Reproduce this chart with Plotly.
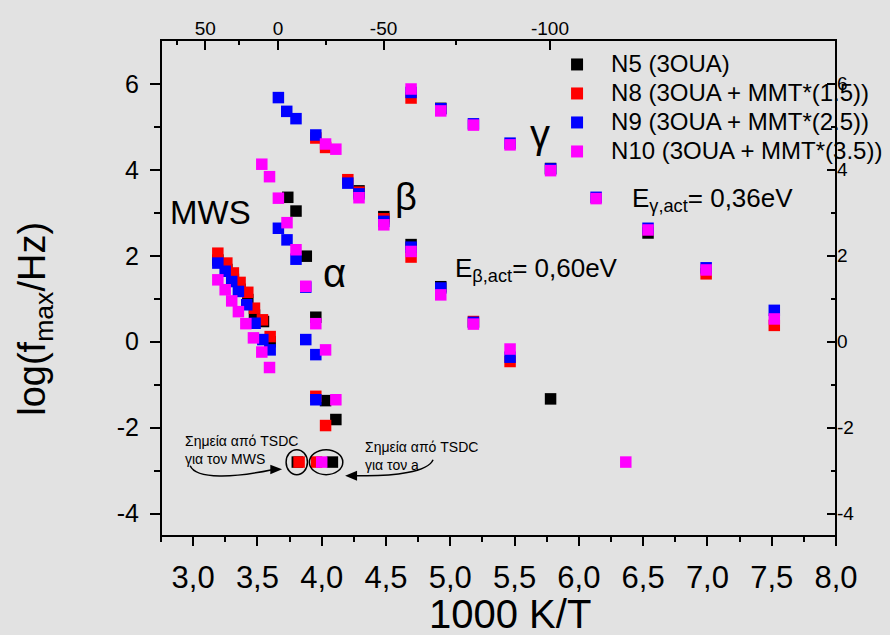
import plotly.graph_objects as go

# ---- Arrhenius map: log10 of loss-peak frequency vs 1000/T ----

# N5 (3OUA)
n5_x = [3.192, 3.262, 3.313, 3.365, 3.425, 3.477, 3.547, 3.599,
        3.736, 3.800, 3.880, 3.954, 4.030, 4.110,
        4.290, 4.483, 4.695, 4.926,
        4.926, 5.780, 6.538, 5.780,
        3.810, 4.083]
n5_y = [1.90, 1.68, 1.45, 1.22, 0.98, 0.62, 0.47, 0.00,
        3.36, 3.04, 1.99, 0.57, -1.37, -1.81,
        3.51, 2.91, 2.26, 1.28,
        5.43, 4.03, 2.53, -1.33,
        -2.80, -2.80]

# N8 (3OUA + MMT*(1.5))
n8_x = [3.192, 3.262, 3.313, 3.365, 3.425, 3.477, 3.539, 3.599,
        3.954, 4.030, 3.954, 4.030,
        4.203, 4.290, 4.483, 4.695, 5.180, 5.465,
        4.695, 6.990, 7.520,
        3.824, 3.960]
n8_y = [2.06, 1.83, 1.60, 1.38, 1.15, 0.78, 0.51, 0.12,
        4.74, 4.52, -1.27, -1.95,
        3.77, 3.48, 2.86, 1.97, 0.47, -0.46,
        5.67, 1.58, 0.38,
        -2.80, -2.80]

# N9 (3OUA + MMT*(2.5))
n9_x = [3.192, 3.249, 3.300, 3.352, 3.417, 3.482, 3.542, 3.599,
        3.663, 3.728, 3.800, 3.954, 3.663, 3.730, 3.800, 3.876, 3.876, 3.954, 3.954,
        4.203, 4.290, 4.483, 4.695, 4.926, 5.180, 5.465,
        4.695, 4.926, 5.180, 5.465, 5.780, 6.134, 6.538, 6.990, 7.520]
n9_y = [1.83, 1.64, 1.40, 1.17, 0.86, 0.43, 0.05, -0.19,
        5.68, 5.36, 5.19, 4.81, 2.64, 2.37, 1.92, 1.27, 0.05, -0.30, -1.35,
        3.69, 3.44, 2.80, 2.20, 1.25, 0.45, -0.36,
        5.80, 5.42, 5.07, 4.62, 4.02, 3.36, 2.64, 1.72, 0.73]

# N10 (3OUA + MMT*(3.5))
n10_x = [3.192, 3.249, 3.300, 3.352, 3.410, 3.469, 3.534, 3.594,
         3.534, 3.594, 3.663, 3.730, 3.800, 3.876, 3.954, 4.030, 4.110, 4.030, 4.110,
         4.290, 4.483, 4.695, 4.926, 5.180, 5.465,
         4.695, 4.926, 5.180, 5.465, 5.780, 6.134, 6.538, 6.990, 7.520,
         4.000, 6.365]
n10_y = [1.44, 1.21, 0.95, 0.70, 0.42, 0.09, -0.24, -0.60,
         4.13, 3.84, 3.34, 2.77, 2.14, 1.29, 0.42, -0.19, -1.35, 4.60, 4.48,
         3.35, 2.72, 2.10, 1.09, 0.41, -0.17,
         5.88, 5.37, 5.04, 4.58, 3.98, 3.33, 2.60, 1.67, 0.53,
         -2.80, -2.80]

series = [
    ("N5 (3OUA)", n5_x, n5_y, "#000000"),
    ("N8 (3OUA + MMT*(1.5))", n8_x, n8_y, "#ff0000"),
    ("N9 (3OUA + MMT*(2.5))", n9_x, n9_y, "#0000ff"),
    ("N10 (3OUA + MMT*(3.5))", n10_x, n10_y, "#ff00ff"),
]

# bottom axis: 1000/T
x_ticks = [3.0, 3.5, 4.0, 4.5, 5.0, 5.5, 6.0, 6.5, 7.0, 7.5, 8.0]
x_tick_text = ["3,0", "3,5", "4,0", "4,5", "5,0", "5,5", "6,0", "6,5", "7,0", "7,5", "8,0"]
# top axis: temperature in Celsius
top_temps_c = [50, 0, -50, -100]
top_minor_c = [75, 25, -25, -75]
y_ticks = [-4, -2, 0, 2, 4, 6]

FONT = "Liberation Sans, Arial, sans-serif"
BG = "#e2e2e2"

fig = go.Figure()
for name, xs, ys, col in series:
    fig.add_trace(go.Scatter(
        x=xs, y=ys, mode="markers", name='<span style="font-size:24px">' + name + "</span>",
        marker=dict(symbol="square", size=11.5, color=col, line=dict(width=0)),
        xaxis="x", yaxis="y",
    ))
# anchor trace for the secondary (top/right) axes
fig.add_trace(go.Scatter(x=[None], y=[None], xaxis="x2", yaxis="y2",
                         showlegend=False, hoverinfo="skip"))

xr = [2.75, 8.0]
yr = [-4.52, 7.02]

fig.update_layout(
    width=890, height=635,
    margin=dict(l=161, r=54, t=40, b=99, autoexpand=False),
    paper_bgcolor=BG, plot_bgcolor=BG,
    font=dict(family=FONT, color="black"),
    showlegend=True,
    legend=dict(x=0.566, y=0.99, xanchor="left", yanchor="top",
                bgcolor="rgba(0,0,0,0)", font=dict(size=20, family=FONT),
                itemsizing="constant", itemwidth=58, tracegroupgap=0),
    xaxis=dict(range=xr, tickvals=x_ticks, ticktext=x_tick_text,
               showgrid=False, zeroline=False, showline=False,
               ticks="outside", ticklen=9, tickwidth=2, tickcolor="black",
               tickfont=dict(size=31), ticklabelstandoff=5,
               minor=dict(tickvals=[x + 0.25 for x in [2.5] + x_ticks[:-1]], ticks="outside",
                          ticklen=5, tickwidth=2, tickcolor="black")),
    yaxis=dict(range=yr, tickvals=y_ticks, ticktext=[str(v) for v in y_ticks],
               showgrid=False, zeroline=False, showline=False,
               ticks="outside", ticklen=10, tickwidth=2, tickcolor="black",
               tickfont=dict(size=25), ticklabelstandoff=6,
               minor=dict(tickvals=[-3, -1, 1, 3, 5], ticks="outside",
                          ticklen=6, tickwidth=2, tickcolor="black")),
    xaxis2=dict(overlaying="x", side="top", anchor="y2", range=xr,
                tickvals=[1000.0 / (t + 273.15) for t in top_temps_c],
                ticktext=[str(t) for t in top_temps_c],
                showgrid=False, zeroline=False, showline=False,
                ticks="inside", ticklen=10, tickwidth=2, tickcolor="black",
                tickfont=dict(size=19),
                minor=dict(tickvals=[1000.0 / (t + 273.15) for t in top_minor_c],
                           ticks="inside", ticklen=5, tickwidth=2, tickcolor="black")),
    yaxis2=dict(overlaying="y", side="right", anchor="x2", range=yr,
                tickvals=y_ticks, ticktext=[str(v) for v in y_ticks],
                showgrid=False, zeroline=False, showline=False,
                ticks="inside", ticklen=9, tickwidth=2, tickcolor="black",
                tickfont=dict(size=19),
                minor=dict(tickvals=[-3, -1, 1, 3, 5], ticks="inside",
                           ticklen=5, tickwidth=2, tickcolor="black")),
)

ann = []
# axis titles
ann.append(dict(text="log(f<sub>max</sub>/Hz)", xref="paper", yref="paper",
                x=-0.187, y=0.4375, xanchor="center", yanchor="middle",
                textangle=-90, showarrow=False, font=dict(size=38, family=FONT)))
ann.append(dict(text="1000 K/T", xref="paper", yref="paper",
                x=0.517, y=-0.157, xanchor="center", yanchor="middle",
                showarrow=False, font=dict(size=40, family=FONT)))
# relaxation labels
for txt, x, y, s in [("MWS", 3.132, 3.00, 33), ("α", 4.096, 1.60, 40),
                     ("β", 4.656, 3.37, 38), ("γ", 5.698, 4.84, 40)]:
    ann.append(dict(text=txt, x=x, y=y, xref="x", yref="y", showarrow=False,
                    font=dict(size=s, family=FONT)))
# activation energies
ann.append(dict(text="E<sub>β,act</sub>= 0,60eV", x=5.022, y=1.67, xref="x", yref="y",
                xanchor="left", showarrow=False, font=dict(size=26, family=FONT)))
ann.append(dict(text="E<sub>γ,act</sub>= 0,36eV", x=6.398, y=3.30, xref="x", yref="y",
                xanchor="left", showarrow=False, font=dict(size=26, family=FONT)))
# TSDC notes
ann.append(dict(text="Σημεία από TSDC<br>για τον MWS", x=2.922, y=-2.53, xref="x", yref="y",
                xanchor="left", align="left", showarrow=False, font=dict(size=14, family=FONT)))
ann.append(dict(text="Σημεία από TSDC<br>για τον a", x=4.322, y=-2.66, xref="x", yref="y",
                xanchor="left", align="left", showarrow=False, font=dict(size=14, family=FONT)))
fig.update_layout(annotations=ann)

# plot frame, rings around the TSDC points and the curved pointers
line = dict(color="black", width=1.5)
shapes = [
    dict(type="rect", xref="paper", yref="paper", x0=0, x1=1, y0=0, y1=1,
         line=dict(color="black", width=2), layer="above"),
    dict(type="circle", xref="x", yref="y", x0=3.723, x1=3.889, y0=-3.093, y1=-2.512, line=line),
    dict(type="circle", xref="x", yref="y", x0=3.904, x1=4.164, y0=-3.093, y1=-2.512, line=line),
    dict(type="path", xref="x", yref="y", line=line,
         path="M 2.977,-2.884 C 3.023,-3.209 3.327,-3.163 3.614,-2.977"),
    dict(type="path", xref="x", yref="y", line=dict(width=0), fillcolor="black",
         path="M 3.692,-2.965 L 3.600,-2.860 L 3.600,-3.081 Z"),
    dict(type="path", xref="x", yref="y", line=line,
         path="M 4.866,-2.744 C 4.827,-3.023 4.571,-3.140 4.267,-3.116"),
    dict(type="path", xref="x", yref="y", line=dict(width=0), fillcolor="black",
         path="M 4.182,-3.116 L 4.275,-3.000 L 4.275,-3.233 Z"),
]
fig.update_layout(shapes=shapes)

fig.write_html("out.html")
